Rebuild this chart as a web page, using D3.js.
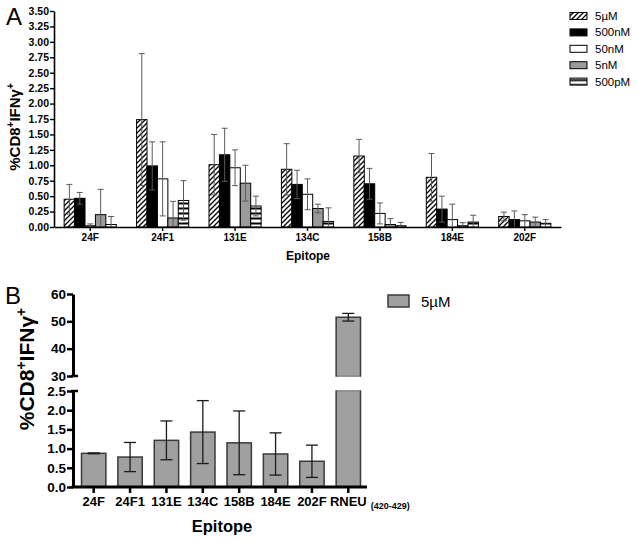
<!DOCTYPE html>
<html><head><meta charset="utf-8">
<script src="https://cdn.jsdelivr.net/npm/d3@7"></script>
<style>
body{margin:0;background:#fff;}
svg{display:block;font-family:"Liberation Sans",Arial,Helvetica,sans-serif;}
</style></head>
<body>
<svg id="c" width="637" height="542"></svg>
<script>
// ---------- Panel A data ----------
const epitopesA = ["24F","24F1","131E","134C","158B","184E","202F"];
const seriesA = ["5µM","500nM","50nM","5nM","500pM"];
const val_5uM   = [0.45, 1.74, 1.01, 0.935, 1.15, 0.805, 0.17];
const sd_5uM    = [0.24, 1.07, 0.49, 0.415, 0.27, 0.385, 0.07];
const val_500nM = [0.465, 0.99, 1.17, 0.69, 0.70, 0.29, 0.12];
const sd_500nM  = [0.095, 0.39, 0.43, 0.23, 0.25, 0.21, 0.14];
const val_50nM  = [0.02, 0.78, 0.96, 0.53, 0.22, 0.12, 0.10];
const sd_50nM   = [0.03, 0.60, 0.29, 0.25, 0.17, 0.25, 0.10];
const val_5nM   = [0.20, 0.146, 0.71, 0.30, 0.04, 0.02, 0.08];
const sd_5nM    = [0.41, 0.27, 0.29, 0.07, 0.095, 0.05, 0.08];
const val_500pM = [0.04, 0.43, 0.34, 0.09, 0.02, 0.08, 0.06];
const sd_500pM  = [0.13, 0.32, 0.16, 0.22, 0.055, 0.11, 0.06];
const yTicksA = [0,0.25,0.5,0.75,1,1.25,1.5,1.75,2,2.25,2.5,2.75,3,3.25,3.5];

// ---------- Panel B data ----------
const epitopesB = ["24F","24F1","131E","134C","158B","184E","202F","RNEU"];
const val_B = [0.877, 0.78, 1.215, 1.43, 1.15, 0.86, 0.67, 51.5];
const sd_B  = [0.01, 0.38, 0.505, 0.82, 0.83, 0.55, 0.42, 1.4];
const yTicksBLow = [0,0.5,1,1.5,2,2.5];
const yTicksBHigh = [30,40,50,60];

const svg = d3.select("#c");
const defs = svg.append("defs");
const hatch = defs.append("pattern").attr("id","hatch").attr("patternUnits","userSpaceOnUse")
  .attr("width",5).attr("height",5);
hatch.append("rect").attr("width",5).attr("height",5).attr("fill","#fff");
hatch.append("path").attr("d","M-1,6 L6,-1 M-1,1 L1,-1 M4,6 L6,4").attr("stroke","#000").attr("stroke-width",1.3);
const stripes = defs.append("pattern").attr("id","stripes").attr("patternUnits","userSpaceOnUse")
  .attr("width",5).attr("height",5).attr("y",1);
stripes.append("rect").attr("width",5).attr("height",5).attr("fill","#fff");
stripes.append("rect").attr("width",5).attr("height",2).attr("y",1.5).attr("fill","#000");

const fills = {"5µM":"url(#hatch)","500nM":"#000","50nM":"#fff","5nM":"#9a9a9a","500pM":"url(#stripes)"};
const dataA = {"5µM":[val_5uM,sd_5uM],"500nM":[val_500nM,sd_500nM],"50nM":[val_50nM,sd_50nM],"5nM":[val_5nM,sd_5nM],"500pM":[val_500pM,sd_500pM]};

// ---------- Panel A ----------
const xA = d3.scaleBand().domain(epitopesA).range([54,561]).paddingInner(0.28).paddingOuter(0.14);
const x1A = d3.scaleBand().domain(seriesA).range([0,xA.bandwidth()]);
const yA = d3.scaleLinear().domain([0,3.5]).range([227,11]);

const gA = svg.append("g");
const rowsA = [];
seriesA.forEach(s=>{
  epitopesA.forEach((e,i)=>rowsA.push({s,e,v:dataA[s][0][i],sd:dataA[s][1][i]}));
});
gA.selectAll("rect.bar").data(rowsA).join("rect").attr("class","bar")
  .attr("x",d=>xA(d.e)+x1A(d.s)).attr("width",x1A.bandwidth())
  .attr("y",d=>yA(d.v)).attr("height",d=>yA(0)-yA(d.v))
  .attr("fill",d=>fills[d.s]).attr("stroke","#000").attr("stroke-width",1);
const cxA = d=>xA(d.e)+x1A(d.s)+x1A.bandwidth()/2;
const eb = gA.selectAll("g.err").data(rowsA).join("g").attr("class","err")
  .attr("stroke","#5a5a5a").attr("stroke-width",1);
eb.append("line").attr("x1",cxA).attr("x2",cxA)
  .attr("y1",d=>yA(Math.max(0,d.v-d.sd))).attr("y2",d=>yA(d.v+d.sd));
eb.append("line").attr("x1",d=>cxA(d)-3).attr("x2",d=>cxA(d)+3)
  .attr("y1",d=>yA(d.v+d.sd)).attr("y2",d=>yA(d.v+d.sd));
eb.filter(d=>d.v-d.sd>0).append("line").attr("x1",d=>cxA(d)-3).attr("x2",d=>cxA(d)+3)
  .attr("y1",d=>yA(d.v-d.sd)).attr("y2",d=>yA(d.v-d.sd));

const axYA = gA.append("g").attr("transform","translate(54,0)")
  .call(d3.axisLeft(yA).tickValues(yTicksA).tickFormat(d3.format(".2f")).tickSize(4).tickSizeOuter(0).tickPadding(1));
axYA.select(".domain").attr("stroke-width",1.6);
axYA.selectAll(".tick line").attr("stroke-width",1.4);
axYA.selectAll("text").attr("font-size",10.5).attr("font-weight","bold").attr("fill","#000");
axYA.attr("font-family",null);

const axXA = gA.append("g").attr("transform","translate(0,227)")
  .call(d3.axisBottom(xA).tickSize(4).tickSizeOuter(0).tickPadding(3));
axXA.select(".domain").attr("stroke-width",1.6);
axXA.selectAll(".tick line").attr("stroke-width",1.4);
axXA.selectAll("text").attr("font-size",10).attr("font-weight","bold").attr("fill","#000");
axXA.attr("font-family",null);

gA.append("text").attr("x",308).attr("y",260).attr("text-anchor","middle")
  .attr("font-size",12).attr("font-weight","bold").text("Epitope");
const tA = gA.append("text").attr("transform","translate(20,127) rotate(-90)").attr("text-anchor","middle")
  .attr("font-size",15).attr("font-weight","bold");
tA.append("tspan").text("%CD8");
tA.append("tspan").attr("dy",-6).attr("font-size",10).text("+");
tA.append("tspan").attr("dy",6).text("IFNγ");
tA.append("tspan").attr("dy",-6).attr("font-size",10).text("+");
gA.append("text").attr("x",6).attr("y",25).attr("font-size",24).text("A");

// legend A
const lgA = gA.selectAll("g.lg").data(seriesA).join("g").attr("class","lg")
  .attr("transform",(d,i)=>`translate(570,${16+i*16.4})`);
lgA.append("rect").attr("x",0).attr("y",-3.5).attr("width",17).attr("height",7)
  .attr("fill",d=>fills[d]).attr("stroke","#000").attr("stroke-width",1);
lgA.append("text").attr("x",25).attr("y",4).attr("font-size",11.5).text(d=>d);

// ---------- Panel B ----------
const xB = d3.scaleBand().domain(epitopesB).range([75.5,366.5]).paddingInner(0.33).paddingOuter(0.165);
const yBLow = d3.scaleLinear().domain([0,2.5]).range([487,391]);
const yBHigh = d3.scaleLinear().domain([30,60]).range([376,294]);
const yB = v => v<=2.5 ? yBLow(v) : yBHigh(v);
const gB = svg.append("g");
const rowsB = epitopesB.map((e,i)=>({e,v:val_B[i],sd:sd_B[i]}));
const barFillB = "#a0a0a0", barStrokeB = "#3a3a3a";
gB.selectAll("rect.low").data(rowsB).join("rect").attr("class","low")
  .attr("x",d=>xB(d.e)).attr("width",xB.bandwidth())
  .attr("y",d=>yBLow(Math.min(d.v,2.5))).attr("height",d=>yBLow(0)-yBLow(Math.min(d.v,2.5)))
  .attr("fill",barFillB).attr("stroke",barStrokeB).attr("stroke-width",1.5);
gB.selectAll("rect.high").data(rowsB.filter(d=>d.v>30)).join("rect").attr("class","high")
  .attr("x",d=>xB(d.e)).attr("width",xB.bandwidth())
  .attr("y",d=>yBHigh(d.v)).attr("height",d=>yBHigh(30)-yBHigh(d.v))
  .attr("fill",barFillB).attr("stroke",barStrokeB).attr("stroke-width",1.5);
gB.selectAll("line.brk").data(rowsB.filter(d=>d.v>30)).join("line").attr("class","brk")
  .attr("x1",d=>xB(d.e)+0.75).attr("x2",d=>xB(d.e)+xB.bandwidth()-0.75)
  .attr("y1",yBHigh(30)).attr("y2",yBHigh(30)).attr("stroke",barFillB).attr("stroke-width",1.6);
gB.selectAll("line.brk2").data(rowsB.filter(d=>d.v>30)).join("line").attr("class","brk2")
  .attr("x1",d=>xB(d.e)+0.75).attr("x2",d=>xB(d.e)+xB.bandwidth()-0.75)
  .attr("y1",yBLow(2.5)).attr("y2",yBLow(2.5)).attr("stroke",barFillB).attr("stroke-width",1.6);

const ebB = gB.selectAll("g.errB").data(rowsB).join("g").attr("class","errB")
  .attr("stroke","#1a1a1a").attr("stroke-width",1.3);
const cx = d=>xB(d.e)+xB.bandwidth()/2;
ebB.append("line").attr("x1",cx).attr("x2",cx).attr("y1",d=>yB(d.v-d.sd)).attr("y2",d=>yB(d.v+d.sd));
ebB.append("line").attr("x1",d=>cx(d)-6).attr("x2",d=>cx(d)+6).attr("y1",d=>yB(d.v+d.sd)).attr("y2",d=>yB(d.v+d.sd));
ebB.append("line").attr("x1",d=>cx(d)-6).attr("x2",d=>cx(d)+6).attr("y1",d=>yB(d.v-d.sd)).attr("y2",d=>yB(d.v-d.sd));

function styleB(ax, fs){
  ax.select(".domain").attr("stroke-width",3);
  ax.selectAll(".tick line").attr("stroke-width",2.5);
  ax.selectAll("text").attr("font-size",fs).attr("font-weight","bold").attr("fill","#000");
  ax.attr("font-family",null);
}
const axBL = gB.append("g").attr("transform","translate(73,0)")
  .call(d3.axisLeft(yBLow).tickValues(yTicksBLow).tickFormat(d3.format(".1f")).tickSize(6).tickSizeOuter(0).tickPadding(1));
styleB(axBL,13.5);
const axBH = gB.append("g").attr("transform","translate(73,0)")
  .call(d3.axisLeft(yBHigh).tickValues(yTicksBHigh).tickFormat(d3.format("d")).tickSize(6).tickSizeOuter(0).tickPadding(1));
styleB(axBH,13.5);
[yBHigh(30), yBLow(2.5)].forEach(y=>{
  gB.append("line").attr("x1",71).attr("x2",78).attr("y1",y).attr("y2",y).attr("stroke","#000").attr("stroke-width",2.5);
});
const axBX = gB.append("g").attr("transform","translate(0,487)")
  .call(d3.axisBottom(xB).tickSize(6).tickSizeOuter(0).tickPadding(4));
axBX.select(".domain").remove();
axBX.append("line").attr("x1",71.5).attr("x2",367).attr("stroke","#000").attr("stroke-width",3);
styleB(axBX,13);
axBX.selectAll(".tick").filter(d=>d==="RNEU").each(function(){
  const t = d3.select(this).select("text");
  const w = t.node().getComputedTextLength();
  d3.select(this).append("text").attr("x",w/2+4).attr("y",t.attr("y")).attr("dy","1.3em")
    .attr("font-size",9).attr("font-weight","bold").attr("fill","#000").attr("text-anchor","start").text("(420-429)");
});

gB.append("text").attr("x",222).attr("y",532).attr("text-anchor","middle")
  .attr("font-size",16.5).attr("font-weight","bold").text("Epitope");
const tB = gB.append("text").attr("transform","translate(34,369) rotate(-90)").attr("text-anchor","middle")
  .attr("font-size",21).attr("font-weight","bold");
tB.append("tspan").text("%CD8");
tB.append("tspan").attr("dy",-8).attr("font-size",14).text("+");
tB.append("tspan").attr("dy",8).text("IFNγ");
tB.append("tspan").attr("dy",-8).attr("font-size",14).text("+");
gB.append("text").attr("x",5).attr("y",304).attr("font-size",24).text("B");

// legend B
gB.append("rect").attr("x",388).attr("y",295).attr("width",21).attr("height",12)
  .attr("fill",barFillB).attr("stroke",barStrokeB).attr("stroke-width",1.5);
gB.append("text").attr("x",421).attr("y",307).attr("font-size",15).text("5µM");
</script>
</body></html>
